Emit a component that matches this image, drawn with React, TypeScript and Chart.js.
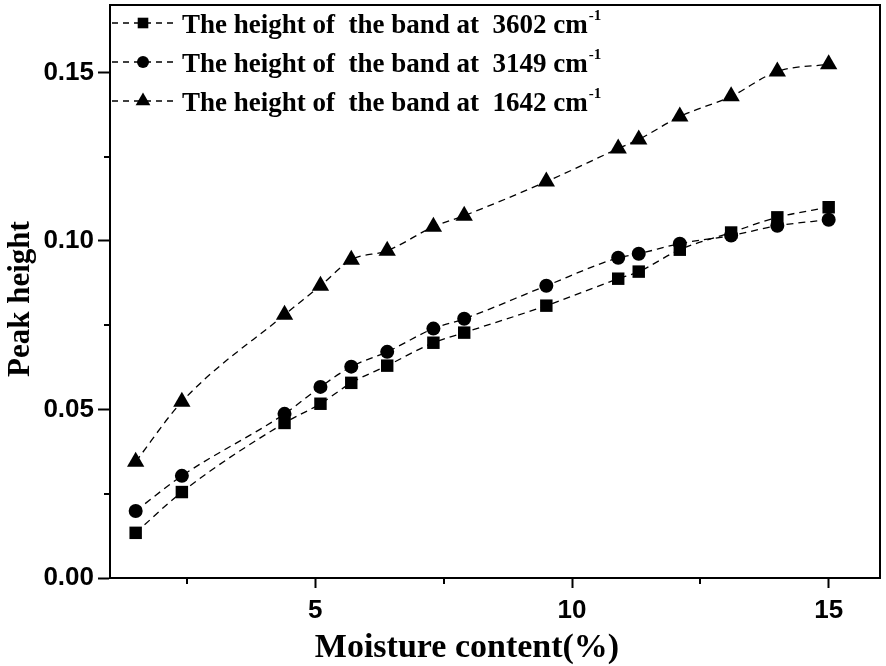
import React, { useEffect, useRef } from "react";
import { Chart, registerables } from "chart.js";

Chart.register(...registerables);

const moisture = [1.5, 2.4, 4.4, 5.1, 5.7, 6.4, 7.3, 7.9, 9.5, 10.9, 11.3, 12.1, 13.1, 14.0, 15.0];
const band3602 = [0.0134, 0.0255, 0.046, 0.0517, 0.0579, 0.063, 0.0698, 0.0728, 0.0808, 0.0888, 0.0909, 0.0974, 0.1025, 0.107, 0.110];
const band3149 = [0.0199, 0.0303, 0.0487, 0.0567, 0.0627, 0.0671, 0.074, 0.0769, 0.0867, 0.095, 0.0962, 0.0992, 0.1016, 0.1045, 0.1063];
const band1642 = [0.0345, 0.0523, 0.0781, 0.0867, 0.0944, 0.0971, 0.1042, 0.1075, 0.1176, 0.1274, 0.1301, 0.1369, 0.1429, 0.1503, 0.1524];

const xTicks = [5, 10, 15];
const xMinor = [2.5, 7.5, 12.5];
const yTicks = [0, 0.05, 0.1, 0.15];
const yMinor = [0.025, 0.075, 0.125];

const xTitle = "Moisture content(%)";
const yTitle = "Peak height";
const legendLabels = [
  { text: "The height of  the band at  3602 cm", sup: "-1", style: "rect" },
  { text: "The height of  the band at  3149 cm", sup: "-1", style: "circle" },
  { text: "The height of  the band at  1642 cm", sup: "-1", style: "triangle" },
];

function drawMarker(ctx: CanvasRenderingContext2D, style: string, x: number, y: number, r: number) {
  ctx.beginPath();
  if (style === "rect") {
    const s = r * Math.SQRT1_2;
    ctx.rect(x - s, y - s, 2 * s, 2 * s);
  } else if (style === "circle") {
    ctx.arc(x, y, r, 0, Math.PI * 2);
  } else {
    const h = r * 1.5;
    const w = r * Math.sqrt(3);
    ctx.moveTo(x, y - r);
    ctx.lineTo(x + w / 2, y - r + h);
    ctx.lineTo(x - w / 2, y - r + h);
    ctx.closePath();
  }
  ctx.fill();
}

const framePlugin = {
  id: "frame",
  afterDraw(chart: any) {
    const { ctx, chartArea } = chart;
    const xs = chart.scales.x;
    const ys = chart.scales.y;
    ctx.save();
    ctx.strokeStyle = "#000";
    ctx.lineWidth = 2;
    ctx.strokeRect(chartArea.left, chartArea.top, chartArea.right - chartArea.left, chartArea.bottom - chartArea.top);
    // minor ticks
    ctx.beginPath();
    xMinor.forEach((v) => {
      const px = Math.round(xs.getPixelForValue(v));
      ctx.moveTo(px, chartArea.bottom);
      ctx.lineTo(px, chartArea.bottom + 6);
    });
    yMinor.forEach((v) => {
      const py = Math.round(ys.getPixelForValue(v));
      ctx.moveTo(chartArea.left, py);
      ctx.lineTo(chartArea.left - 6, py);
    });
    ctx.stroke();

    // axis titles
    ctx.fillStyle = "#000";
    ctx.font = "bold 34px 'Liberation Serif'";
    ctx.textAlign = "center";
    ctx.textBaseline = "alphabetic";
    ctx.fillText(xTitle, 467, 657);

    ctx.save();
    ctx.translate(29, 299);
    ctx.rotate(-Math.PI / 2);
    ctx.font = "bold 31px 'Liberation Serif'";
    ctx.textAlign = "center";
    ctx.textBaseline = "alphabetic";
    ctx.fillText(yTitle, 0, 0);
    ctx.restore();

    // legend
    const x0 = chartArea.left + 2;
    const rowY = [23, 62, 101];
    legendLabels.forEach((lab, i) => {
      const y = rowY[i];
      ctx.save();
      ctx.lineWidth = 1.3;
      ctx.setLineDash([6, 5]);
      ctx.beginPath();
      ctx.moveTo(x0, y);
      ctx.lineTo(x0 + 64, y);
      ctx.stroke();
      ctx.restore();
      ctx.fillStyle = "#000";
      drawMarker(ctx, lab.style, x0 + 31, y, lab.style === "triangle" ? 8.5 : lab.style === "rect" ? 7.5 : 6);
      ctx.font = "bold 27px 'Liberation Serif'";
      ctx.textBaseline = "alphabetic";
      ctx.textAlign = "left";
      const tx = x0 + 70;
      ctx.fillText(lab.text, tx, y + 10);
      const w = ctx.measureText(lab.text).width;
      ctx.font = "bold 15px 'Liberation Serif'";
      ctx.fillText(lab.sup, tx + w + 1, y - 3);
    });
    ctx.restore();
  },
};

export default function App() {
  const ref = useRef<HTMLCanvasElement>(null);
  useEffect(() => {
    if (!ref.current) return;
    const mk = (label: string, data: number[], style: string, r: number) => ({
      label,
      data: moisture.map((x, i) => ({ x, y: data[i] })),
      borderColor: "#000",
      backgroundColor: "#000",
      borderWidth: 1.3,
      borderDash: [7, 5],
      pointStyle: style,
      pointRadius: r,
      pointBorderWidth: 0,
      cubicInterpolationMode: "monotone",
      fill: false,
      clip: false,
    });
    const chart = new Chart(ref.current, {
      type: "line",
      data: {
        datasets: [
          mk("3602", band3602, "rect", 8.8),
          mk("3149", band3149, "circle", 7),
          mk("1642", band1642, "triangle", 10),
        ] as any,
      },
      options: {
        responsive: false,
        animation: false,
        layout: { autoPadding: false, padding: { left: 0, top: 5, right: 6, bottom: 0 } },
        plugins: { legend: { display: false }, tooltip: { enabled: false } },
        scales: {
          x: {
            type: "linear",
            min: 1,
            max: 16,
            afterBuildTicks: (s: any) => {
              s.ticks = xTicks.map((v) => ({ value: v }));
            },
            afterFit: (s: any) => {
              s.height = 88;
              s.paddingLeft = 0;
              s.paddingRight = 0;
            },
            border: { display: true, color: "#000", width: 2 },
            grid: { drawOnChartArea: false, drawTicks: true, tickLength: 10, tickWidth: 2, tickColor: "#000" },
            ticks: {
              color: "#000",
              padding: 7,
              font: { family: "'Liberation Sans'", weight: "bold", size: 26 },
              callback: (v: any) => String(v),
            },
            title: { display: false },
          },
          y: {
            type: "linear",
            min: 0,
            max: 0.17,
            afterBuildTicks: (s: any) => {
              s.ticks = yTicks.map((v) => ({ value: v }));
            },
            afterFit: (s: any) => {
              s.width = 110;
              s.paddingTop = 0;
              s.paddingBottom = 0;
            },
            border: { display: true, color: "#000", width: 2 },
            grid: { drawOnChartArea: false, drawTicks: true, tickLength: 12, tickWidth: 2, tickColor: "#000" },
            ticks: {
              color: "#000",
              padding: 4,
              font: { family: "'Liberation Sans'", weight: "bold", size: 26 },
              callback: (v: any) => Number(v).toFixed(2),
            },
            title: { display: false },
          },
        },
      },
      plugins: [framePlugin],
    });
    return () => chart.destroy();
  }, []);
  return (
    <div style={{ position: "fixed", left: 0, top: 0, width: 886, height: 666, background: "#fff" }}>
      <canvas ref={ref} width={886} height={666} />
    </div>
  );
}
